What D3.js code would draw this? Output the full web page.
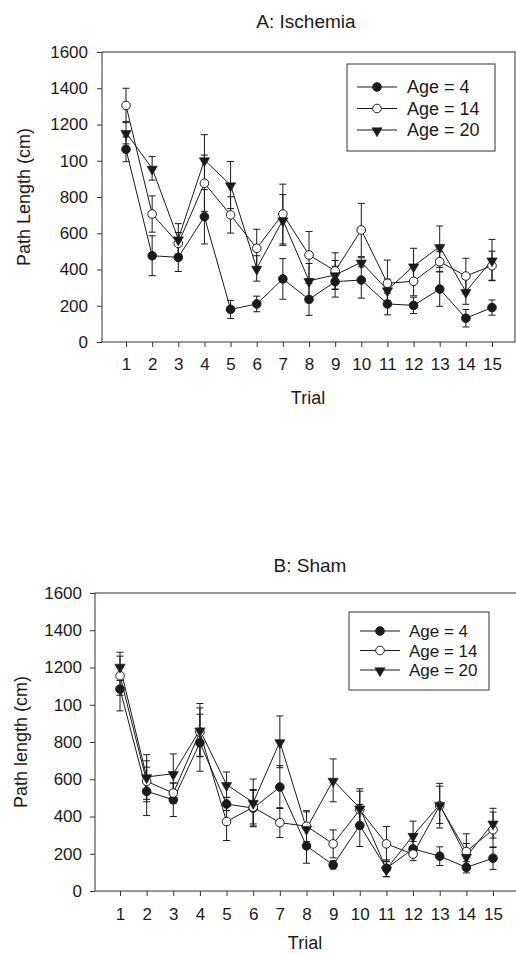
<!DOCTYPE html>
<html>
<head>
<meta charset="utf-8">
<script src="https://cdn.jsdelivr.net/npm/d3@7"></script>
<style>
  html, body { margin: 0; padding: 0; background: #fff; }
  svg { display: block; }
  text { font-family: "Liberation Sans", Arial, sans-serif; fill: #1a1a1a; }
</style>
</head>
<body>
<svg id="chart" width="516" height="954"></svg>
<script>
// ---------- DATA ----------
const trials = [1,2,3,4,5,6,7,8,9,10,11,12,13,14,15];
const yTickValues = [0,200,400,600,800,1000,1200,1400,1600];
const yTickLabels = ["0","200","400","600","800","100","1200","1400","1600"];
const seriesNames = ["Age = 4","Age = 14","Age = 20"];

// Panel A: Ischemia
const ischAge4     = [1063, 476, 467, 691, 180, 210, 348, 235, 333, 342, 210, 202, 292, 131, 190];
const ischAge4Err  = [  68, 110,  78, 150,  50,  43, 112,  88,  85, 100,  60,  45,  95,  48,  42];
const ischAge14    = [1305, 706, 544, 876, 701, 517, 706, 480, 392, 618, 324, 335, 443, 364, 421];
const ischAge14Err = [  95, 100,  60, 155, 100, 105, 165, 130, 100, 147, 128,  80,  55,  98,  80];
const ischAge20    = [1155, 958, 568,1004, 866, 406, 673, 338, 370, 440, 287, 419, 526, 278, 452];
const ischAge20Err = [  62,  65,  85, 140, 130,  70, 140,  95,  80,  25,  60,  98, 114,  70, 114];

// Panel B: Sham
const shamAge4     = [1084, 535, 490, 796, 467, 445, 558, 242, 140, 352, 122, 226, 187, 127, 176];
const shamAge4Err  = [ 117, 130,  90, 153,  35, 100, 115,  93,  22, 113,  45,  40,  50,  30,  60];
const shamAge14    = [1156, 589, 526, 853, 373, 450, 367, 348, 253, 436, 253, 198, 458, 212, 329];
const shamAge14Err = [ 105, 110,  54, 130, 102,  90,  80,  83,  75, 100,  93,  35, 120,  95,  95];
const shamAge20    = [1206, 612, 630, 864, 571, 475, 801, 335, 594, 445, 117, 298, 463, 185, 364];
const shamAge20Err = [  76, 120, 106, 143,  68, 126, 139,  90, 115, 104,  40,  77, 100,  70,  80];

// ---------- DRAWING ----------
const svg = d3.select("#chart");
const ink = "#1a1a1a";
const markerStyles = ["filled", "open", "triangle"];

function drawMarker(g, kind, x, y) {
  if (kind === "triangle") {
    g.append("path")
      .attr("d", d3.symbol().type(d3.symbolTriangle).size(46)())
      .attr("transform", `translate(${x},${y + 0.8}) rotate(180)`)
      .attr("fill", ink).attr("stroke", ink).attr("stroke-width", 0.6);
  } else {
    g.append("circle")
      .attr("cx", x).attr("cy", y).attr("r", 4.3)
      .attr("fill", kind === "filled" ? ink : "#fff")
      .attr("stroke", ink).attr("stroke-width", 1);
  }
}

function drawPanel(cfg) {
  const g = svg.append("g");
  const x = d3.scaleLinear().domain([1, 15]).range([cfg.x1, cfg.x15]);
  const y = d3.scaleLinear().domain([0, 1600]).range([cfg.bottom, cfg.top]);

  // frame
  g.append("rect")
    .attr("x", cfg.left).attr("y", cfg.top)
    .attr("width", cfg.right - cfg.left).attr("height", cfg.bottom - cfg.top)
    .attr("fill", "none").attr("stroke", "#333").attr("stroke-width", 1);

  // y axis
  const yAxis = d3.axisLeft(y).tickValues(yTickValues)
    .tickFormat((d, i) => yTickLabels[i]).tickSize(5).tickPadding(cfg.yPad);
  const ya = g.append("g").attr("transform", `translate(${cfg.left},0)`).call(yAxis);
  ya.select(".domain").remove();
  ya.selectAll("line").attr("stroke", "#333");
  ya.selectAll("text").attr("font-size", 17).attr("fill", ink)
    .attr("font-family", "Liberation Sans, Arial, sans-serif");

  // x axis
  const xAxis = d3.axisBottom(x).tickValues(trials).tickFormat(d3.format("d"))
    .tickSize(5).tickPadding(cfg.xPad);
  const xa = g.append("g").attr("transform", `translate(0,${cfg.bottom})`).call(xAxis);
  xa.select(".domain").remove();
  xa.selectAll("line").attr("stroke", "#333");
  xa.selectAll("text").attr("font-size", 17).attr("fill", ink)
    .attr("font-family", "Liberation Sans, Arial, sans-serif");

  // titles and labels
  g.append("text").attr("x", cfg.titleX).attr("y", cfg.titleY)
    .attr("text-anchor", "middle").attr("font-size", 19).text(cfg.title);
  g.append("text").attr("x", cfg.xLabelX).attr("y", cfg.xLabelY)
    .attr("text-anchor", "middle").attr("font-size", 18).text("Trial");
  g.append("text")
    .attr("transform", `translate(${cfg.yLabelX},${(cfg.top + cfg.bottom) / 2}) rotate(-90)`)
    .attr("text-anchor", "middle").attr("font-size", 18).text(cfg.yLabel);

  const line = d3.line().x((d, i) => x(trials[i])).y(d => y(d));

  // lines
  cfg.series.forEach(s => {
    g.append("path").datum(s.values).attr("d", line)
      .attr("fill", "none").attr("stroke", ink).attr("stroke-width", 1);
  });
  // error bars
  cfg.series.forEach(s => {
    s.values.forEach((v, i) => {
      const cx = x(trials[i]);
      const e = s.errors[i];
      const y0 = y(v - e), y1 = y(v + e);
      g.append("line").attr("x1", cx).attr("x2", cx).attr("y1", y0).attr("y2", y1)
        .attr("stroke", ink).attr("stroke-width", 1);
      [y0, y1].forEach(yy => {
        g.append("line").attr("x1", cx - 3.5).attr("x2", cx + 3.5).attr("y1", yy).attr("y2", yy)
          .attr("stroke", ink).attr("stroke-width", 1);
      });
    });
  });
  // markers
  cfg.series.forEach((s, si) => {
    s.values.forEach((v, i) => drawMarker(g, markerStyles[si], x(trials[i]), y(v)));
  });

  // legend
  const L = cfg.legend;
  g.append("rect").attr("x", L.x).attr("y", L.y).attr("width", L.w).attr("height", L.h)
    .attr("fill", "#fff").attr("stroke", "#333").attr("stroke-width", 1);
  seriesNames.forEach((name, i) => {
    const ry = L.row0 + i * L.rowStep;
    g.append("line").attr("x1", L.lineX1).attr("x2", L.lineX2).attr("y1", ry).attr("y2", ry)
      .attr("stroke", ink).attr("stroke-width", 1);
    drawMarker(g, markerStyles[i], (L.lineX1 + L.lineX2) / 2, ry);
    g.append("text").attr("x", L.textX).attr("y", ry).attr("dy", "0.36em")
      .attr("font-size", L.fontSize).text(name);
  });
}

drawPanel({
  title: "A: Ischemia", titleX: 306, titleY: 28,
  yLabel: "Path Length (cm)", yLabelX: 30,
  xLabelX: 308, xLabelY: 404,
  left: 102, right: 515, top: 52, bottom: 342,
  x1: 126, x15: 492, yPad: 9, xPad: 11,
  series: [
    { values: ischAge4, errors: ischAge4Err },
    { values: ischAge14, errors: ischAge14Err },
    { values: ischAge20, errors: ischAge20Err }
  ],
  legend: { x: 347, y: 64, w: 148, h: 87, row0: 87, rowStep: 21.5, lineX1: 357, lineX2: 397, textX: 407, fontSize: 18 }
});

drawPanel({
  title: "B: Sham", titleX: 310, titleY: 572,
  yLabel: "Path length (cm)", yLabelX: 27,
  xLabelX: 305, xLabelY: 949,
  left: 95, right: 522, top: 593, bottom: 891,
  x1: 120, x15: 493, yPad: 8, xPad: 12,
  series: [
    { values: shamAge4, errors: shamAge4Err },
    { values: shamAge14, errors: shamAge14Err },
    { values: shamAge20, errors: shamAge20Err }
  ],
  legend: { x: 349, y: 612, w: 140, h: 78, row0: 631, rowStep: 19.5, lineX1: 360, lineX2: 400, textX: 409, fontSize: 17 }
});
</script>
</body>
</html>
